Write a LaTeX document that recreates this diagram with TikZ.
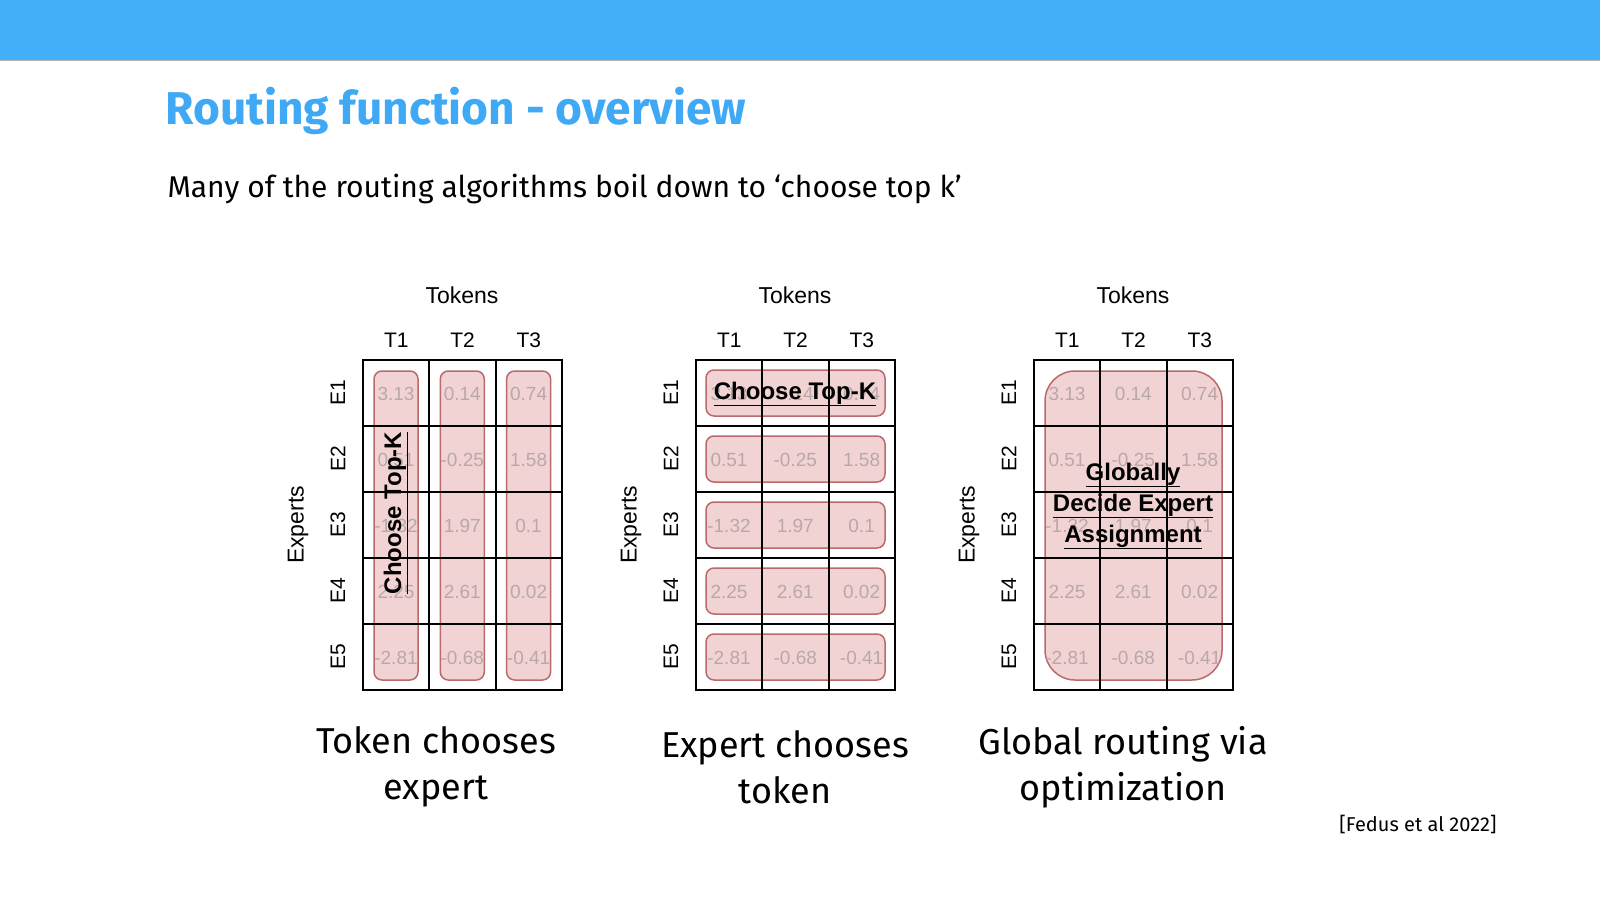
\documentclass[tikz,border=0pt]{standalone}
\usepackage{fontspec}
\setmainfont{Fira Sans}
\newfontfamily\hv{Liberation Sans}
\newcommand\myul[1]{\underline{#1}}
\begin{document}
\begin{tikzpicture}[x=1pt,y=-1pt]
\definecolor{bar}{HTML}{42AFF8}
\definecolor{ttl}{HTML}{3FA9F5}
\definecolor{pillf}{HTML}{F2D3D4}
\definecolor{pilld}{HTML}{B86A6C}
\definecolor{valc}{HTML}{B9A8A9}
\tikzset{pill/.style={fill=pillf,draw=pilld,line width=1.5pt},
 val/.style={font=\hv\fontsize{19}{19}\selectfont,text=valc},
 lab/.style={font=\hv\fontsize{21}{21}\selectfont},
 captxt/.style={font=\fontsize{36}{46}\selectfont,align=center},
 gridl/.style={line width=2pt}}
\useasboundingbox (0,0) rectangle (1600,901);
\fill[bar] (0,0) rectangle (1600,60);
\draw[gray!60,line width=1pt] (0,60.5) -- (1600,60.5);
\node[anchor=base west,text=ttl,font=\fontsize{46}{46}\selectfont\bfseries] (title) at (162,125) {Routing function - overview};
\node[anchor=base west,font=\fontsize{30}{30}\selectfont] (sub) at (164,198) {Many of the routing algorithms boil down to ‘choose top k’};
\foreach \g/\X in {1/363,2/696,3/1034}{
  \begin{scope}[shift={(\X,360)}]
  \ifnum\g=1
    \foreach \c in {0,1,2}{\draw[pill,rounded corners=8pt] (\c*66.3+11,11) rectangle (\c*66.3+55,320);}
  \fi
  \ifnum\g=2
    \foreach \r in {0,...,4}{\draw[pill,rounded corners=8pt] (10,\r*66+10) rectangle (189,\r*66+56);}
  \fi
  \ifnum\g=3
    \draw[pill,rounded corners=30pt] (11,11) rectangle (188,320);
  \fi
  \foreach \r [count=\ri from 0] in {{3.13,0.14,0.74},{0.51,-0.25,1.58},{-1.32,1.97,0.1},{2.25,2.61,0.02},{-2.81,-0.68,-0.41}}{
    \foreach \v [count=\ci from 0] in \r {
      \node[val] (v\g\ri\ci) at (\ci*66.3+33,\ri*66+34) {\v};}}
  \draw[gridl] (0,0) rectangle (199,330);
  \foreach \c in {1,2}{\draw[gridl] (\c*66.3,0) -- (\c*66.3,330);}
  \foreach \r in {1,...,4}{\draw[gridl] (0,\r*66) -- (199,\r*66);}
  \foreach \t in {1,2,3}{\node[lab] (t\g\t) at (\t*66.3-33,-20) {T\t};}
  \foreach \e in {1,...,5}{\node[lab,rotate=90] (e\g\e) at (-25,\e*66-33) {E\e};}
  \node[font=\hv\fontsize{23}{23}\selectfont] (tok\g) at (99,-65) {Tokens};
  \node[font=\hv\fontsize{23}{23}\selectfont,rotate=90] (exp\g) at (-65,165) {Experts};
  \end{scope}}
\node[font=\hv\bfseries\fontsize{24}{24}\selectfont,rotate=90] (ck1) at (396,513) {\myul{Choose Top-K}};
\node[font=\hv\bfseries\fontsize{24}{24}\selectfont] (ck2) at (795,394) {\myul{Choose Top-K}};
\node[font=\hv\bfseries\fontsize{24}{31}\selectfont,align=center] (gd) at (1133,506) {\myul{Globally}\\\myul{Decide Expert}\\\myul{Assignment}};
\node[captxt] (c1) at (436,767) {Token chooses\\expert};
\node[captxt] (c2) at (785,767) {Expert chooses\\token};
\node[captxt] (c3) at (1123,767) {Global routing via\\optimization};
\node[anchor=east,font=\fontsize{20}{20}\selectfont] (ref) at (1500,824) {[Fedus et al 2022]};
\end{tikzpicture}
\end{document}
